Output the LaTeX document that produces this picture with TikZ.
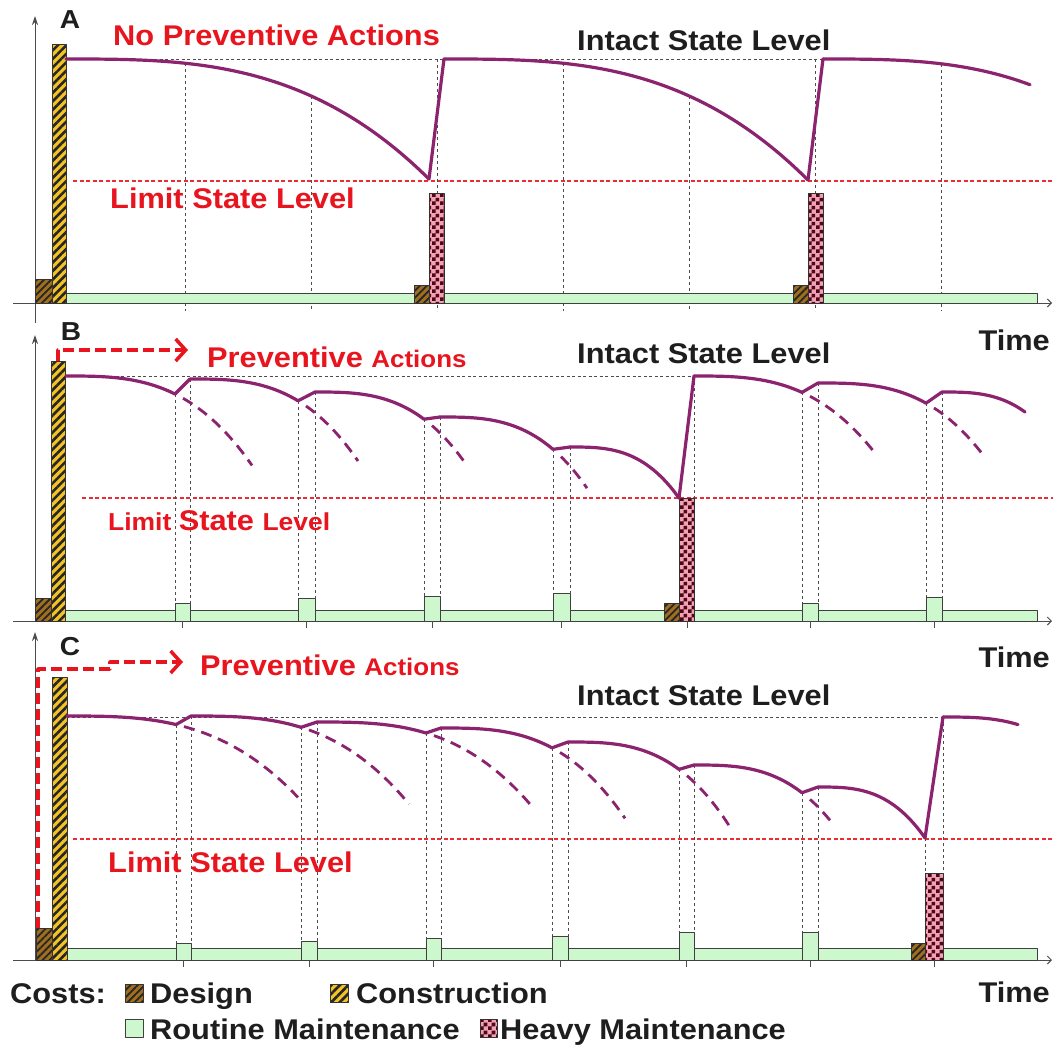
\documentclass[tikz,border=0pt]{standalone}
\usepackage{fontspec}
\setmainfont{Liberation Sans}[FakeStretch=1.08]
\usetikzlibrary{arrows.meta,patterns,patterns.meta}

\definecolor{wearcol}{HTML}{8C236E}
\definecolor{redtxt}{HTML}{E8141E}
\definecolor{inkcol}{HTML}{1E1E1E}
\definecolor{designcol}{HTML}{A06E1E}
\definecolor{constrcol}{HTML}{F2C227}
\definecolor{heavycol}{HTML}{F2A0B2}
\definecolor{heavydark}{HTML}{4A0818}
\definecolor{routinecol}{HTML}{CDF7CD}

% checker pattern for heavy maintenance
\pgfdeclarepatternformonly{heavy checks}{\pgfpointorigin}{\pgfqpoint{8pt}{8pt}}{\pgfqpoint{8pt}{8pt}}{%
  \pgfpathrectangle{\pgfpointorigin}{\pgfqpoint{4pt}{4pt}}%
  \pgfpathrectangle{\pgfqpoint{4pt}{4pt}}{\pgfqpoint{4pt}{4pt}}%
  \pgfusepath{fill}}

\begin{document}
\begin{tikzpicture}[x=1pt,y=-1pt,line join=round,
  wear/.style={line width=3.2pt,draw=wearcol,line cap=round},
  wearfut/.style={line width=2.8pt,draw=wearcol,dash pattern=on 11pt off 7pt},
  level/.style={line width=0.8pt,draw=black!70,dash pattern=on 3pt off 2.5pt},
  limit/.style={line width=1.3pt,draw=redtxt!90,dash pattern=on 4pt off 2.5pt},
  guide/.style={line width=1pt,draw=black!70,dash pattern=on 3pt off 3pt},
  axisline/.style={line width=0.9pt,draw=black!70},
  routine/.style={fill=routinecol,draw=black!75,line width=1pt},
  design/.style={preaction={fill=designcol},pattern={Lines[angle=45,distance=5pt,line width=1.8pt]},pattern color=black!85,draw=black!80,line width=0.8pt},
  constr/.style={preaction={fill=constrcol},pattern={Lines[angle=45,distance=6pt,line width=2.6pt]},pattern color=black!85,draw=black!80,line width=0.8pt},
  heavy/.style={preaction={fill=heavycol},pattern=heavy checks,pattern color=heavydark,draw=black!80,line width=0.8pt},
  prevent/.style={line width=3.5pt,draw=redtxt,dash pattern=on 11pt off 5pt,-{Straight Barb[length=10pt,width=22pt,line width=3.5pt]}},
  lbl/.style={inner sep=0pt,font=\fontsize{28.5}{34}\selectfont\bfseries,text=inkcol},
  redlbl/.style={lbl,text=redtxt},
  panel/.style={inner sep=0pt,font=\fontsize{26}{30}\selectfont\bfseries,text=inkcol}]
  \useasboundingbox (0,0) rectangle (1053,1045);
  \fill[white] (0,0) rectangle (1053,1045);

  % A: no preventive actions
  \draw[axisline,-{Stealth[length=9pt,width=6pt]}] (35,323) -- (35,16);
  \draw[axisline,-{Straight Barb[length=4pt,width=8pt]}] (13,303) -- (1052,303);
  \draw[level] (66,59) -- (823,59);
  \draw[limit] (73,181) -- (1053,181);
  \foreach \x/\y in {185/63,311/96,437/59,563/63,689/96,815/59,941/64}
    \draw[guide] (\x,\y) -- (\x,311);
  \draw[routine] (66,293) rectangle (1037,303);
  \draw[design] (35,279) rectangle (52,303);
  \draw[constr] (52,44) rectangle (66,303);
  \draw[design] (414,285) rectangle (429,303) (793,285) rectangle (808,303);
  \draw[heavy] (429,193) rectangle (444,303) (808,193) rectangle (823,303);

  % B, C: preventive actions
  \draw[axisline,-{Stealth[length=9pt,width=6pt]}] (35,621) -- (35,335);
  \draw[axisline,-{Straight Barb[length=4pt,width=8pt]}] (13,621) -- (1052,621);
  \draw[axisline,-{Stealth[length=9pt,width=6pt]}] (35,960) -- (35,632);
  \draw[axisline,-{Straight Barb[length=4pt,width=8pt]}] (13,960) -- (1052,960);
  \draw[level] (66,376) -- (694,376);
  \draw[limit] (82,498) -- (1053,498);
  \draw[level] (66,717) -- (943,717);
  \draw[limit] (73,839) -- (1053,839);
  \draw[routine] (64,610) rectangle (1037,621);
  \draw[routine] (67,948) rectangle (1037,960);
  \foreach \xl/\yl/\xr/\yr/\t/\b in {175/394/190/379/603/621, 298/401/315/392/598/621,
      424/419/440/417/596/621, 553/449/570/447/593/621, 802/392/818/383/603/621,
      926/403/942/392/597/621, 176/725/191/716/943/960, 301/727/317/722/941/960,
      426/733/441/728/938/960, 552/748/568/742/936/960, 679/769/694/765/932/960,
      802/793/818/787/932/960}{
    \draw[guide] (\xl,\yl) -- (\xl,\t) (\xr,\yr) -- (\xr,\t);
    \draw[routine] (\xl,\t) rectangle (\xr,\b);
    \draw[axisline] ({(\xl+\xr)/2},\b) -- ++(0,7);
  }
  % heavy maintenance in B and C
  \draw[guide] (694,376) -- (694,498);
  \draw[guide] (925,838) -- (925,873) (943,717) -- (943,873);
  \draw[design] (664,603) rectangle (679,621) (911,943) rectangle (925,960);
  \draw[heavy] (679,498) rectangle (694,621) (925,873) rectangle (943,960);
  \draw[axisline] (687,621) -- ++(0,7) (934,960) -- ++(0,7);
  \draw[design] (35,598) rectangle (51,621) (36,928) rectangle (52,960);
  \draw[constr] (51,361) rectangle (65,621) (52,677) rectangle (67,960);
  \draw[prevent] (58,361) |- (188,350);
  \draw[prevent] (38,928) |- (110,669) |- (183,662);

  % condition curves: start, rate, dip, end of dashed part, next start
  \foreach \xa/\ya/\c/\xb/\xd/\xn/\yn in {66/59/2.51/429/0/444/59,
      444/59/2.51/808/0/823/59, 823/59/2.9/1030/0/0/0,
      66/376/13.9/175/252/190/379, 190/379/17.3/298/358/315/392,
      315/392/21/424/467/440/417, 440/417/22.4/553/587/570/447,
      570/447/39.4/679/0/694/376, 694/376/13/802/875/818/383,
      818/383/16/926/985/942/392, 942/392/35/1025/0/0/0,
      67/716/6.6/176/298/191/716, 191/716/8.5/301/409/317/722,
      317/722/8.5/426/530/441/728, 441/728/14.5/552/625/568/742,
      568/742/20/679/730/694/765, 694/765/22/802/830/818/787,
      818/787/41.6/925/0/943/717, 943/717/18/1018/0/0/0}{
    \pgfmathsetmacro\yb{\ya+\c*((\xb-\xa)/100)^3}
    \pgfmathsetmacro\xs{\xb+8}
    \draw[wear] plot[domain=\xa:\xb,samples=40,smooth] (\x,{\ya+\c*((\x-\xa)/100)^3});
    \ifnum\xn>0 \draw[wear] (\xb,\yb) -- (\xn,\yn); \fi
    \ifnum\xd>0 \draw[wearfut] plot[domain=\xs:\xd,samples=20,smooth] (\x,{\ya+\c*((\x-\xa)/100)^3}); \fi
  }

  % labels
  \node[panel] (panA) at (70,20) {A};
  \node[panel] (panB) at (71,332) {B};
  \node[panel] (panC) at (70,647) {C};
  \node[redlbl,anchor=base west] (noact) at (113,45) {No Preventive Actions};
  \node[lbl,anchor=base west] (intactA) at (577,50) {Intact State Level};
  \node[redlbl,anchor=base west] (limitA) at (110,208) {Limit State Level};
  \node[lbl,anchor=base east] (timeA) at (1050,350) {Time};
  \node[redlbl,anchor=base west] (actB) at (207,367) {Preventive \fontsize{24}{29}\selectfont Actions};
  \node[lbl,anchor=base west] (intactB) at (577,363) {Intact State Level};
  \node[redlbl,anchor=base west] (limitB) at (108,530)
    {\fontsize{24.5}{29}\selectfont Limit \fontsize{28.5}{34}\selectfont State \fontsize{24.5}{29}\selectfont Level};
  \node[lbl,anchor=base east] (timeB) at (1050,667) {Time};
  \node[redlbl,anchor=base west] (actC) at (200,675) {Preventive \fontsize{24}{29}\selectfont Actions};
  \node[lbl,anchor=base west] (intactC) at (577,705) {Intact State Level};
  \node[redlbl,anchor=base west] (limitC) at (108,872) {Limit State Level};
  \node[lbl,anchor=base east] (timeC) at (1050,1002) {Time};

  % legend
  \node[lbl,anchor=base west] (costs) at (10,1003) {Costs:};
  \draw[design] (125,984) rectangle (143,1002);
  \node[lbl,anchor=base west] (legdes) at (150,1003) {Design};
  \draw[constr] (330,984) rectangle (348,1002);
  \node[lbl,anchor=base west] (legcon) at (356,1003) {Construction};
  \draw[routine] (125,1019) rectangle (143,1037);
  \node[lbl,anchor=base west] (legrou) at (150,1039) {Routine Maintenance};
  \draw[heavy] (480,1019) rectangle (497,1037);
  \node[lbl,anchor=base west] (leghea) at (500,1039) {Heavy Maintenance};
\end{tikzpicture}
\end{document}
